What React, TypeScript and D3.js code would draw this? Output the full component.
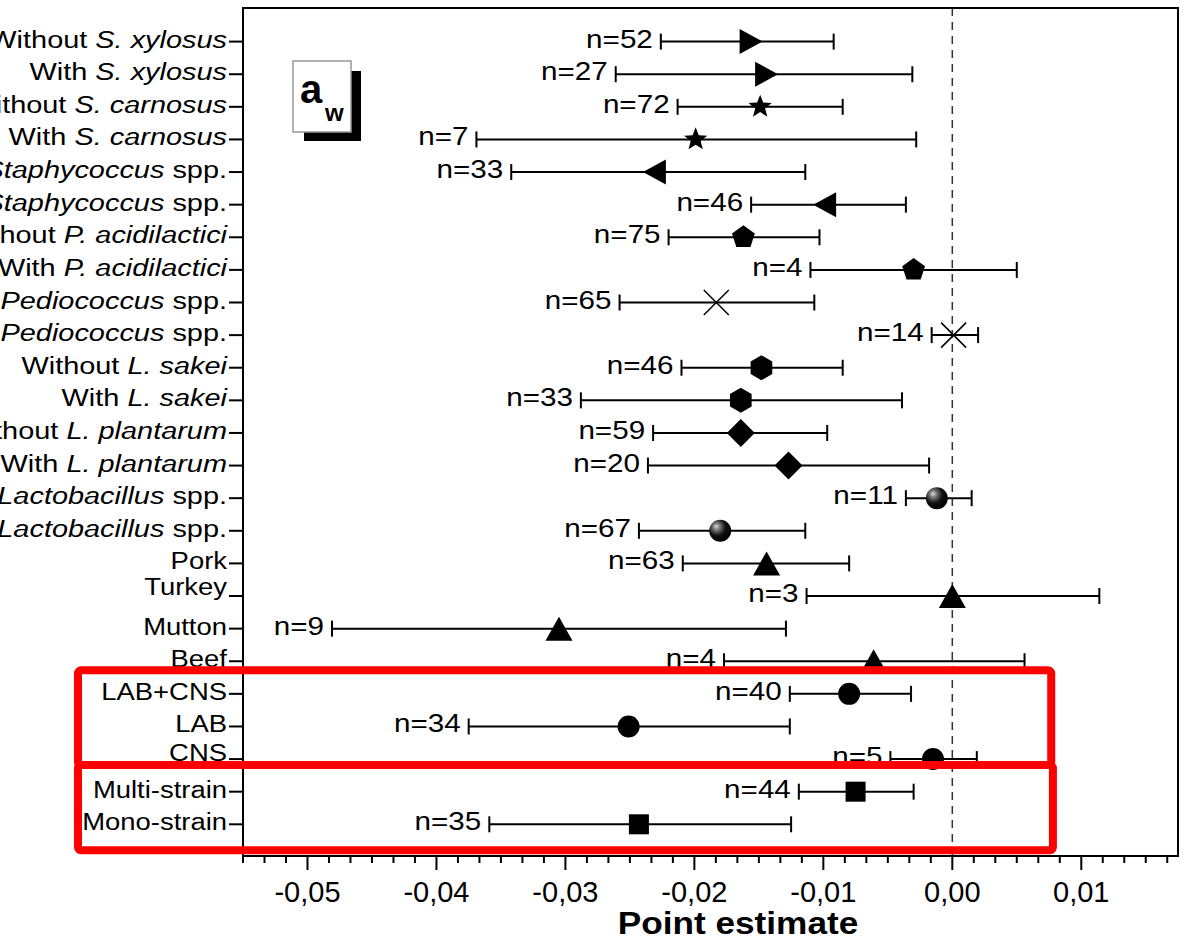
import React from 'react';
import * as d3 from 'd3';

// rows, top to bottom
const labelPrefix = [
  'Without ', 'With ', 'Without ', 'With ', 'Without ', 'With ', 'Without ', 'With ',
  'Without ', 'With ', 'Without ', 'With ', 'Without ', 'With ', 'Without ', 'With ',
  'Pork', 'Turkey', 'Mutton', 'Beef', 'LAB+CNS', 'LAB', 'CNS', 'Multi-strain', 'Mono-strain',
];
const labelItalic = [
  'S. xylosus', 'S. xylosus', 'S. carnosus', 'S. carnosus', 'Staphycoccus', 'Staphycoccus',
  'P. acidilactici', 'P. acidilactici', 'Pediococcus', 'Pediococcus', 'L. sakei', 'L. sakei',
  'L. plantarum', 'L. plantarum', 'Lactobacillus', 'Lactobacillus',
  '', '', '', '', '', '', '', '', '',
];
const labelSuffix = [
  '', '', '', '', ' spp.', ' spp.', '', '', ' spp.', ' spp.', '', '', '', '', ' spp.', ' spp.',
  '', '', '', '', '', '', '', '', '',
];
const nValues = [52, 27, 72, 7, 33, 46, 75, 4, 65, 14, 46, 33, 59, 20, 11, 67, 63, 3, 9, 4, 40, 34, 5, 44, 35];
const estimate = [
  -0.0156, -0.0144, -0.0149, -0.0199, -0.0231, -0.0099, -0.0162, -0.0030, -0.0183, 0.0001,
  -0.0148, -0.0164, -0.0164, -0.0127, -0.0012, -0.0180, -0.0144, 0.0000, -0.0305, -0.0061,
  -0.0080, -0.0251, -0.0015, -0.0075, -0.0243,
];
const lower = [
  -0.0226, -0.0261, -0.0213, -0.0369, -0.0342, -0.0156, -0.0220, -0.0110, -0.0258, -0.0016,
  -0.0210, -0.0288, -0.0232, -0.0236, -0.0036, -0.0243, -0.0209, -0.0113, -0.0481, -0.0177,
  -0.0126, -0.0375, -0.0048, -0.0119, -0.0359,
];
const upper = [
  -0.0092, -0.0031, -0.0085, -0.0028, -0.0114, -0.0036, -0.0103, 0.0050, -0.0107, 0.0020,
  -0.0085, -0.0039, -0.0097, -0.0018, 0.0015, -0.0114, -0.0080, 0.0114, -0.0129, 0.0056,
  -0.0032, -0.0126, 0.0019, -0.0030, -0.0125,
];
const markers = [
  'triR', 'triR', 'star', 'star', 'triL', 'triL', 'pent', 'pent', 'cross', 'cross',
  'hex', 'hex', 'diamond', 'diamond', 'sphere', 'sphere', 'triU', 'triU', 'triU', 'triU',
  'circle', 'circle', 'circle', 'square', 'square',
];
const xTicks = [-0.05, -0.04, -0.03, -0.02, -0.01, 0, 0.01];

// small label nudges seen in the figure
const labelShift: Record<string, number> = { Turkey: -7, CNS: -4 };

const W = 1191;
const H = 944;
const plot = { left: 243, right: 1178, top: 8, bottom: 856 };

function polygon(n: number, r: number, rot = -Math.PI / 2) {
  const pts = d3.range(n).map(i => {
    const a = rot + (i * 2 * Math.PI) / n;
    return [r * Math.cos(a), r * Math.sin(a)];
  });
  return 'M' + pts.map(p => p.join(',')).join('L') + 'Z';
}

function star(R: number, r: number) {
  const pts = d3.range(10).map(i => {
    const a = -Math.PI / 2 + (i * Math.PI) / 5;
    const rr = i % 2 === 0 ? R : r;
    return [rr * Math.cos(a), rr * Math.sin(a)];
  });
  return 'M' + pts.map(p => p.join(',')).join('L') + 'Z';
}

function markerPath(type: string) {
  switch (type) {
    case 'triR': return 'M-11.5,-12.5L11.5,0L-11.5,12.5Z';
    case 'triL': return 'M11.5,-12.5L-11.5,0L11.5,12.5Z';
    case 'triU': return 'M0,-12L13.5,12L-13.5,12Z';
    case 'star': return star(12.2, 5.2);
    case 'pent': return polygon(5, 12);
    case 'hex': return polygon(6, 12.5);
    case 'diamond': return 'M0,-14L14,0L0,14L-14,0Z';
    case 'square': return 'M-10,-10H10V10H-10Z';
    default: return '';
  }
}

export default function App() {
  const x = d3.scaleLinear().domain([-0.055, 0.0175]).range([plot.left, plot.right]);
  const y = d3.scalePoint<number>().domain(d3.range(nValues.length)).range([41.6, 824.3]);

  const fmt = d3.formatLocale({ decimal: ',', thousands: '.', grouping: [3], currency: ['', ''], minus: '-' }).format('.2f');
  const minorTicks = d3.range(-3, 41).filter(k => k % 6 !== 0).map(k => -0.05 + k / 600);

  const rowY = (i: number) => y(i) as number;

  const box1 = { x0: 78, x1: x(0.00767), y0: rowY(20) - 23.5, y1: rowY(22) + 6 };
  const box2 = { x0: 78, x1: x(0.0078), y0: rowY(22) + 6, y1: rowY(24) + 26 };

  return (
    <svg width={W} height={H} style={{ position: 'absolute', left: 0, top: 0, background: '#fff' }}
      fontFamily="Arial, 'Liberation Sans', sans-serif">
      <defs>
        <radialGradient id="sphere" cx="0.38" cy="0.35" r="0.65" fx="0.32" fy="0.3">
          <stop offset="0" stopColor="#d8d8d8" />
          <stop offset="0.25" stopColor="#777" />
          <stop offset="0.6" stopColor="#111" />
          <stop offset="1" stopColor="#000" />
        </radialGradient>
      </defs>
      <rect width={W} height={H} fill="#fff" />

      {/* zero line */}
      <line x1={x(0)} x2={x(0)} y1={plot.top} y2={plot.bottom} stroke="#333" strokeWidth={1.5} strokeDasharray="8,6" />

      {/* frame */}
      <rect x={plot.left} y={plot.top} width={plot.right - plot.left} height={plot.bottom - plot.top}
        fill="none" stroke="#000" strokeWidth={2} />

      {/* x axis ticks */}
      {xTicks.map(t => (
        <g key={t}>
          <line x1={x(t)} x2={x(t)} y1={plot.bottom} y2={plot.bottom + 14} stroke="#000" strokeWidth={2} />
          <text x={x(t)} y={902} textAnchor="middle" fontSize={29}>{fmt(t)}</text>
        </g>
      ))}
      {minorTicks.map(t => (
        <line key={t} x1={x(t)} x2={x(t)} y1={plot.bottom} y2={plot.bottom + 7} stroke="#000" strokeWidth={2} />
      ))}
      <text transform={`translate(738,934) scale(1.1,1)`} textAnchor="middle" fontSize={32} fontWeight="bold">Point estimate</text>

      {/* y axis ticks and labels */}
      {nValues.map((_, i) => (
        <g key={'y' + i}>
          <line x1={plot.left - 14} x2={plot.left} y1={rowY(i)} y2={rowY(i)} stroke="#000" strokeWidth={2} />
          <text transform={`translate(227,${rowY(i) + 6 + (labelShift[labelPrefix[i]] || 0)}) scale(${labelItalic[i] ? 1.18 : 1.12},1)`}
            textAnchor="end" fontSize={24.5}>
            <tspan>{labelPrefix[i]}</tspan>
            {labelItalic[i] && <tspan fontStyle="italic">{labelItalic[i]}</tspan>}
            {labelSuffix[i] && <tspan>{labelSuffix[i]}</tspan>}
          </text>
        </g>
      ))}

      {/* error bars, markers, n labels */}
      {nValues.map((n, i) => {
        const cy = rowY(i);
        const lo = x(lower[i]);
        const hi = x(upper[i]);
        const cx = x(estimate[i]);
        const m = markers[i];
        return (
          <g key={'r' + i}>
            <line x1={lo} x2={hi} y1={cy} y2={cy} stroke="#000" strokeWidth={2} />
            <line x1={lo} x2={lo} y1={cy - 8} y2={cy + 8} stroke="#000" strokeWidth={2} />
            <line x1={hi} x2={hi} y1={cy - 8} y2={cy + 8} stroke="#000" strokeWidth={2} />
            <g transform={`translate(${cx},${cy})`}>
              {m === 'circle' && <circle r={11} fill="#000" />}
              {m === 'sphere' && <circle r={11} fill="url(#sphere)" />}
              {m === 'cross' && (
                <path d="M-12.5,-12.5L12.5,12.5M12.5,-12.5L-12.5,12.5" stroke="#000" strokeWidth={1.5} fill="none" />
              )}
              {markerPath(m) && <path d={markerPath(m)} fill="#000" />}
            </g>
            <text transform={`translate(${lo - 8},${cy + 6}) scale(1.14,1)`} textAnchor="end" fontSize={26}>
              n={n}
            </text>
          </g>
        );
      })}

      {/* a_w badge */}
      <rect x={304} y={71} width={57} height={70} fill="#000" />
      <rect x={293} y={61} width={58} height={71} fill="#fff" stroke="#999" strokeWidth={1.5} />
      <text x={300} y={103} fontSize={40} fontWeight="bold">a</text>
      <text x={325} y={121} fontSize={24} fontWeight="bold">w</text>

      {/* highlight boxes */}
      {[box1, box2].map((b, k) => (
        <rect key={'b' + k} x={b.x0} y={b.y0} width={b.x1 - b.x0} height={b.y1 - b.y0} rx={3}
          fill="none" stroke="#ff0000" strokeWidth={8} />
      ))}
    </svg>
  );
}
